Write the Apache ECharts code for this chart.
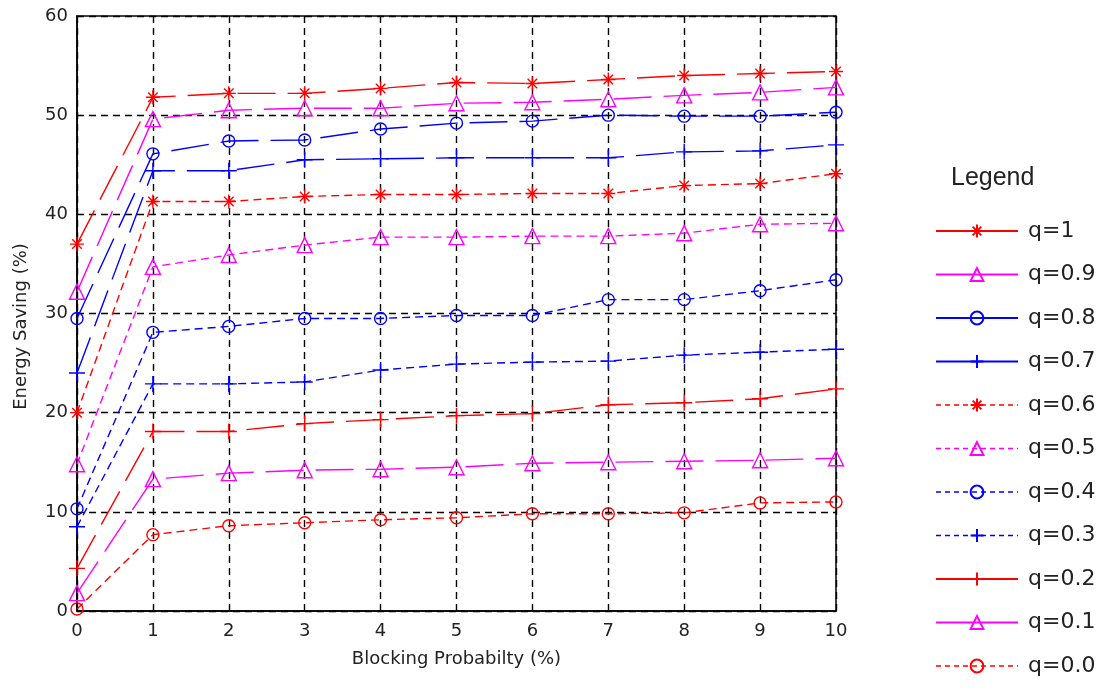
<!DOCTYPE html>
<html>
<head>
<meta charset="utf-8">
<script src="https://cdn.jsdelivr.net/npm/echarts@6/dist/echarts.min.js"></script>
<style>
  html, body { margin: 0; padding: 0; background: #fff; }
  #chart { width: 1100px; height: 688px; }
</style>
</head>
<body>
<div id="chart"></div>
<script>
// Blocking probability (%) on the x axis
const blockingProb = [0, 1, 2, 3, 4, 5, 6, 7, 8, 9, 10];

// Energy saving (%) for each q value
const q10 = [37.0, 51.8, 52.2, 52.2, 52.7, 53.3, 53.2, 53.6, 54.0, 54.2, 54.4];
const q09 = [32.2, 49.6, 50.5, 50.7, 50.7, 51.2, 51.3, 51.6, 52.0, 52.3, 52.8];
const q08 = [29.5, 46.1, 47.4, 47.5, 48.6, 49.2, 49.4, 50.0, 49.9, 49.9, 50.3];
const q07 = [24.0, 44.4, 44.4, 45.5, 45.6, 45.7, 45.7, 45.7, 46.3, 46.4, 47.0];
const q06 = [20.0, 41.3, 41.3, 41.8, 42.0, 42.0, 42.1, 42.1, 42.9, 43.1, 44.1];
const q05 = [14.8, 34.7, 35.9, 36.9, 37.7, 37.7, 37.8, 37.8, 38.1, 39.0, 39.1];
const q04 = [10.3, 28.1, 28.7, 29.5, 29.5, 29.8, 29.8, 31.4, 31.4, 32.3, 33.4];
const q03 = [8.5, 22.9, 22.9, 23.1, 24.3, 24.9, 25.1, 25.2, 25.8, 26.1, 26.4];
const q02 = [4.3, 18.1, 18.1, 18.9, 19.3, 19.7, 19.9, 20.8, 21.0, 21.4, 22.4];
const q01 = [1.8, 13.3, 13.9, 14.2, 14.3, 14.5, 14.9, 15.0, 15.1, 15.2, 15.4];
const q00 = [0.2, 7.7, 8.6, 8.9, 9.2, 9.4, 9.8, 9.8, 9.9, 10.9, 11.0];

const seriesNames = ['q=1', 'q=0.9', 'q=0.8', 'q=0.7', 'q=0.6', 'q=0.5',
                     'q=0.4', 'q=0.3', 'q=0.2', 'q=0.1', 'q=0.0'];
const seriesValues = [q10, q09, q08, q07, q06, q05, q04, q03, q02, q01, q00];

// Axis ticks
const xTicks = { min: 0, max: 10, step: 1 };
const yTicks = { min: 0, max: 60, step: 10 };

const RED = '#ff0000', MAGENTA = '#ff00ff', BLUE = '#0000ff';
const TEXT = '#222';
const FONT = '"DejaVu Sans", Verdana, sans-serif';

// Stroke-only marker shapes: asterisk and plus
const STAR = 'path://M5,0L5,10M0,5L10,5M1.6,1.6L8.4,8.4M8.4,1.6L1.6,8.4';
const PLUS = 'path://M5,0L5,10M0,5L10,5';

// colour, marker, marker size, solid-style flag
const styles = [
  [RED, STAR, 14, true],
  [MAGENTA, 'triangle', 15, true],
  [BLUE, 'circle', 12, true],
  [BLUE, PLUS, 16, true],
  [RED, STAR, 14, false],
  [MAGENTA, 'triangle', 15, false],
  [BLUE, 'circle', 12, false],
  [BLUE, PLUS, 16, false],
  [RED, PLUS, 16, true],
  [MAGENTA, 'triangle', 15, true],
  [RED, 'circle', 12, false]
];

const LONG_DASH = [38, 12];
const SHORT_DASH = [8, 5];

const series = seriesNames.map((name, i) => {
  const [color, symbol, size, solid] = styles[i];
  return {
    name: name,
    type: 'line',
    data: blockingProb.map((x, k) => [x, seriesValues[i][k]]),
    symbol: symbol,
    symbolSize: size,
    showAllSymbol: true,
    color: color,
    lineStyle: { color: color, width: 1.4, type: solid ? LONG_DASH : SHORT_DASH },
    itemStyle: { color: 'none', borderColor: color, borderWidth: 1.4 },
    emphasis: { disabled: true },
    z: 3
  };
});

const legendData = seriesNames.map((name, i) => ({
  name: name,
  lineStyle: { type: styles[i][3] ? 'solid' : [5, 4], width: styles[i][3] ? 2 : 1.4 }
}));

const chart = echarts.init(document.getElementById('chart'), null, { renderer: 'canvas' });

chart.setOption({
  animation: false,
  backgroundColor: '#fff',
  textStyle: { fontFamily: FONT },
  title: {
    text: 'Legend',
    left: 946,
    top: 161,
    textStyle: { fontSize: 25, fontWeight: 'normal', color: TEXT, fontFamily: 'Liberation Sans, Arial, sans-serif' }
  },
  grid: {
    left: 77, right: 264, top: 16, bottom: 77,
    show: true, borderColor: '#000', borderWidth: 1.5,
    containLabel: false
  },
  legend: {
    orient: 'vertical',
    left: 930,
    top: 215,
    itemWidth: 82,
    itemHeight: 16,
    itemGap: 21.5,
    data: legendData,
    textStyle: { fontSize: 22, lineHeight: 22, color: TEXT, fontFamily: FONT, padding: [0, 0, 0, 5] },
    selectedMode: false
  },
  xAxis: {
    type: 'value',
    min: xTicks.min, max: xTicks.max, interval: xTicks.step,
    name: 'Blocking Probabilty (%)',
    nameLocation: 'middle',
    nameGap: 39,
    nameTextStyle: { fontSize: 18, color: TEXT },
    axisLine: { show: true, lineStyle: { color: '#000', width: 1.5 } },
    axisTick: { show: true, inside: true, length: 5, lineStyle: { color: '#000' } },
    axisLabel: { fontSize: 18, color: TEXT, margin: 11 },
    splitLine: { show: true, lineStyle: { color: '#000', type: [7, 5], width: 1.4 } }
  },
  yAxis: {
    type: 'value',
    min: yTicks.min, max: yTicks.max, interval: yTicks.step,
    name: 'Energy Saving (%)',
    nameLocation: 'middle',
    nameGap: 47,
    nameTextStyle: { fontSize: 18, color: TEXT, padding: [0, 26, 0, 0] },
    axisLine: { show: true, lineStyle: { color: '#000', width: 1.5 } },
    axisTick: { show: true, inside: true, length: 5, lineStyle: { color: '#000' } },
    axisLabel: { fontSize: 18, color: TEXT, margin: 9 },
    splitLine: { show: true, lineStyle: { color: '#000', type: [7, 5], width: 1.4 } }
  },
  series: series
});
</script>
</body>
</html>
